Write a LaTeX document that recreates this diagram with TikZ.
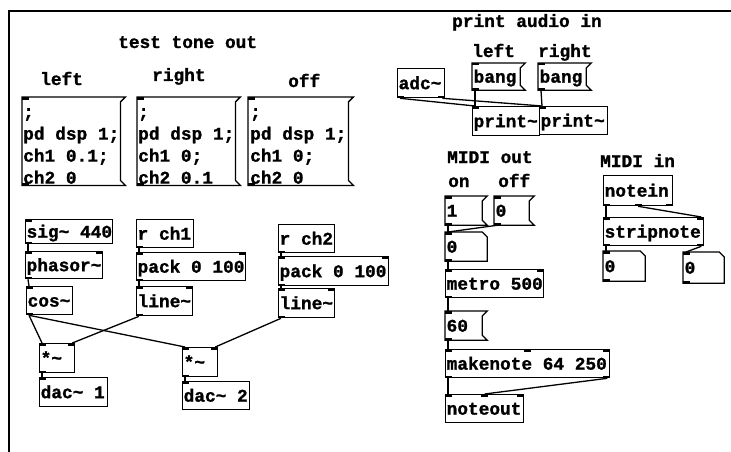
\documentclass[tikz,border=0pt]{standalone}
\usepackage{fontspec}
\newfontfamily\pdfnt{Liberation Mono}[BoldFeatures={FakeBold=1.2}]
\newcommand\tld{\textasciitilde}
\newcommand\pdbox[7]{\node[#1, minimum width=#5pt, minimum height=#6pt] (#2) at (#3,#4) {\makebox[\dimexpr#5pt-2pt\relax][l]{#7}};}
\newcommand\msgshape[1]{\draw[box] (#1.north west) -- ([xshift=5pt]#1.north east) -- ([yshift=-5pt]#1.north east) -- ([yshift=5pt]#1.south east) -- ([xshift=5pt]#1.south east) -- (#1.south west) -- cycle;}
\newcommand\numshape[1]{\draw[box] (#1.north west) -- ([xshift=-5pt]#1.north east) -- ([yshift=-5pt]#1.north east) -- (#1.south east) -- (#1.south west) -- cycle;}
\newcommand\pdinL[1]{\fill (#1.north west) rectangle ++(7,2.5);}
\newcommand\pdinR[1]{\fill ([xshift=-7pt]#1.north east) rectangle ++(7,2.5);}
\newcommand\pdinM[1]{\fill ([xshift=-3.5pt]#1.north) rectangle ++(7,2.5);}
\newcommand\pdoutL[1]{\fill (#1.south west) rectangle ++(7,-2.5);}
\newcommand\pdoutR[1]{\fill ([xshift=-7pt]#1.south east) rectangle ++(7,-2.5);}
\newcommand\pdoutM[1]{\fill ([xshift=-3.5pt]#1.south) rectangle ++(7,-2.5);}
\newcommand\dspline[1]{\mbox{\spaceskip=0pt\xspaceskip=0pt #1}}
\begin{document}
\begin{tikzpicture}[x=1pt,y=-1pt,
  pdtxt/.style={font=\pdfnt\bfseries\fontsize{17.8}{22}\selectfont},
  obj/.style={pdtxt, draw, line width=1.3pt, anchor=north west, inner xsep=1pt, inner ysep=0pt, text height=15pt, text depth=3pt},
  ghost/.style={obj, draw=none},
  dspst/.style={pdtxt, anchor=north west, inner xsep=1pt, inner ysep=0pt, align=left, text width=96pt, minimum width=98pt, minimum height=88pt},
  wire/.style={line width=1.3pt},
  box/.style={line width=1.3pt},
  lbl/.style={pdtxt, anchor=base west, inner sep=0pt}]
\useasboundingbox (0,0) rectangle (731,452);
\draw[line width=1.5pt] (731,11) -- (9,11) -- (9,452);

% comments
\node[lbl] (c1) at (118,48) {test tone out};
\node[lbl] (c2) at (40,85) {left};
\node[lbl] (c3) at (152,81) {right};
\node[lbl] (c4) at (288,87) {off};
\node[lbl] (c5) at (452,27) {print audio in};
\node[lbl] (c6) at (472,57) {left};
\node[lbl] (c7) at (538,57) {right};
\node[lbl] (c8) at (447,163) {MIDI out};
\node[lbl] (c9) at (448,187) {on};
\node[lbl] (c10) at (498,187) {off};
\node[lbl] (c11) at (600,167) {MIDI in};

% dsp message boxes
\node[dspst] (dspL) at (22,97) {\dspline{\rule{0pt}{19pt};}\\\dspline{pd dsp 1;}\\\dspline{ch1 0.1;}\\\dspline{ch2 0}};
\node[dspst] (dspR) at (137,97) {\dspline{\rule{0pt}{19pt};}\\\dspline{pd dsp 1;}\\\dspline{ch1 0;}\\\dspline{ch2 0.1}};
\node[dspst, minimum width=100pt] (dspO) at (248,97) {\dspline{\rule{0pt}{19pt};}\\\dspline{pd dsp 1;}\\\dspline{ch1 0;}\\\dspline{ch2 0}};
\msgshape{dspL}\msgshape{dspR}\msgshape{dspO}
\pdinL{dspL}\pdoutL{dspL}\pdinL{dspR}\pdoutL{dspR}\pdinL{dspO}\pdoutL{dspO}

% test tone objects
\pdbox{obj}{sig}{25}{219}{87}{24}{sig\tld{} 440}
\pdbox{obj}{phasor}{25}{251}{77}{27}{phasor\tld}
\pdbox{obj}{cos}{26}{286}{46}{28}{cos\tld}
\pdbox{obj}{rchA}{136}{219}{57}{28}{r ch1}
\pdbox{obj}{packA}{136}{252}{109}{28}{pack 0 100}
\pdbox{obj}{lineA}{136}{286}{56}{29}{line\tld}
\pdbox{obj}{rchB}{278}{224}{56}{28}{r ch2}
\pdbox{obj}{packB}{278}{256}{110}{29}{pack 0 100}
\pdbox{obj}{lineB}{278}{288}{56}{29}{line\tld}
\pdbox{obj}{mulA}{39}{343}{35}{29}{*\tld}
\pdbox{obj}{dacA}{39}{377}{68}{29}{dac\tld{} 1}
\pdbox{obj}{mulB}{182}{347}{35}{29}{*\tld}
\pdbox{obj}{dacB}{182}{381}{67}{28}{dac\tld{} 2}

% print audio in
\pdbox{obj}{adc}{397}{68}{47}{29}{adc\tld}
\pdbox{ghost}{bangL}{472}{63}{47}{26}{bang}
\pdbox{ghost}{bangR}{538}{63}{47}{26}{bang}
\msgshape{bangL}\msgshape{bangR}
\pdbox{obj}{printL}{472}{106}{67}{29}{print\tld}
\pdbox{obj}{printR}{539}{106}{68}{28}{print\tld}

% MIDI out
\pdbox{ghost}{one}{445}{196}{36}{28}{1}
\pdbox{ghost}{zero}{494}{196}{34}{28}{0}
\msgshape{one}\msgshape{zero}
\pdbox{ghost}{num}{445}{232}{41}{28}{0}
\numshape{num}
\pdbox{obj}{metro}{445}{269}{98}{28}{metro 500}
\pdbox{ghost}{sixty}{445}{311}{36}{28}{60}
\msgshape{sixty}
\pdbox{obj}{mk}{445}{349}{164}{28}{makenote 64 250}
\pdbox{obj}{nout}{445}{394}{78}{28}{noteout}

% MIDI in
\pdbox{obj}{nin}{603}{175}{69}{30}{notein}
\pdbox{obj}{strip}{603}{217}{100}{28}{stripnote}
\pdbox{ghost}{numL}{603}{251}{41}{29}{0}
\pdbox{ghost}{numR}{683}{252}{40}{30}{0}
\numshape{numL}\numshape{numR}

% inlets / outlets
\pdinL{sig}\pdoutL{sig}
\pdinL{phasor}\pdinR{phasor}\pdoutL{phasor}
\pdinL{cos}\pdoutL{cos}
\pdoutL{rchA}\pdoutL{rchB}
\pdinL{packA}\pdinR{packA}\pdoutL{packA}
\pdinL{packB}\pdinR{packB}\pdoutL{packB}
\pdinL{lineA}\pdinR{lineA}\pdoutL{lineA}
\pdinL{lineB}\pdinR{lineB}\pdoutL{lineB}
\pdinL{mulA}\pdinR{mulA}\pdoutL{mulA}
\pdinL{mulB}\pdinR{mulB}\pdoutL{mulB}
\pdinL{dacA}\pdinL{dacB}
\pdoutL{adc}\pdoutR{adc}
\pdinL{bangL}\pdoutL{bangL}\pdinL{bangR}\pdoutL{bangR}
\pdinL{printL}\pdinL{printR}
\pdinL{one}\pdoutL{one}\pdinL{zero}\pdoutL{zero}
\pdinL{num}\pdoutL{num}
\pdinL{metro}\pdinR{metro}\pdoutL{metro}
\pdinL{sixty}\pdoutL{sixty}
\pdinL{mk}\pdinM{mk}\pdinR{mk}\pdoutL{mk}\pdoutR{mk}
\pdinL{nout}\pdinM{nout}\pdinR{nout}
\pdoutL{nin}\pdoutM{nin}\pdoutR{nin}
\pdinL{strip}\pdinR{strip}\pdoutL{strip}\pdoutR{strip}
\pdinL{numL}\pdoutL{numL}\pdinL{numR}\pdoutL{numR}

% connections
\draw[wire] ([xshift=3pt]sig.south west) -- ([xshift=3pt]phasor.north west);
\draw[wire] ([xshift=3pt]phasor.south west) -- ([xshift=3pt]cos.north west);
\draw[wire] ([xshift=3pt]cos.south west) -- ([xshift=3pt]mulA.north west);
\draw[wire] ([xshift=3pt]cos.south west) -- ([xshift=3pt]mulB.north west);
\draw[wire] ([xshift=3pt]rchA.south west) -- ([xshift=3pt]packA.north west);
\draw[wire] ([xshift=3pt]packA.south west) -- ([xshift=3pt]lineA.north west);
\draw[wire] ([xshift=3pt]lineA.south west) -- ([xshift=-3pt]mulA.north east);
\draw[wire] ([xshift=3pt]rchB.south west) -- ([xshift=3pt]packB.north west);
\draw[wire] ([xshift=3pt]packB.south west) -- ([xshift=3pt]lineB.north west);
\draw[wire] ([xshift=3pt]lineB.south west) -- ([xshift=-3pt]mulB.north east);
\draw[wire] ([xshift=3pt]mulA.south west) -- ([xshift=3pt]dacA.north west);
\draw[wire] ([xshift=3pt]mulB.south west) -- ([xshift=3pt]dacB.north west);
\draw[wire] ([xshift=3pt]adc.south west) -- ([xshift=3pt]printL.north west);
\draw[wire] ([xshift=-3pt]adc.south east) -- ([xshift=3pt]printR.north west);
\draw[wire] ([xshift=3pt]bangL.south west) -- ([xshift=3pt]printL.north west);
\draw[wire] ([xshift=3pt]bangR.south west) -- ([xshift=3pt]printR.north west);
\draw[wire] ([xshift=3pt]one.south west) -- ([xshift=3pt]num.north west);
\draw[wire] ([xshift=3pt]zero.south west) -- ([xshift=3pt]num.north west);
\draw[wire] ([xshift=3pt]num.south west) -- ([xshift=3pt]metro.north west);
\draw[wire] ([xshift=3pt]metro.south west) -- ([xshift=3pt]sixty.north west);
\draw[wire] ([xshift=3pt]sixty.south west) -- ([xshift=3pt]mk.north west);
\draw[wire] ([xshift=3pt]mk.south west) -- ([xshift=3pt]nout.north west);
\draw[wire] ([xshift=-3pt]mk.south east) -- (nout.north);
\draw[wire] ([xshift=3pt]nin.south west) -- ([xshift=3pt]strip.north west);
\draw[wire] (nin.south) -- ([xshift=-3pt]strip.north east);
\draw[wire] ([xshift=3pt]strip.south west) -- ([xshift=3pt]numL.north west);
\draw[wire] ([xshift=-3pt]strip.south east) -- ([xshift=3pt]numR.north west);
\end{tikzpicture}
\end{document}
